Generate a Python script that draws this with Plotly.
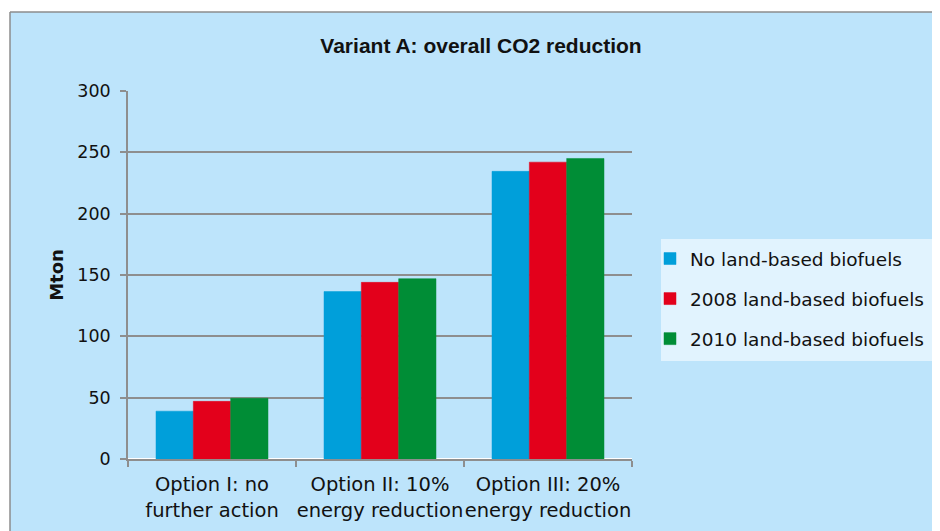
import plotly.graph_objects as go

categories = ["Option I: no<br>further action",
              "Option II: 10%<br>energy reduction",
              "Option III: 20%<br>energy reduction"]
no_land = [39, 136.5, 234.5]
land_2008 = [47, 144, 242]
land_2010 = [49.5, 147, 245]

series = [("No land-based biofuels", no_land, "#009FDA"),
          ("2008 land-based biofuels", land_2008, "#E3001B"),
          ("2010 land-based biofuels", land_2010, "#008D36")]

FW, FH = 940, 531
# plot area in figure pixels (page adds an 8px body margin)
L, R, T, B = 120, 624, 83, 451
W, H = R - L, B - T

def px(x):
    return (x - L) / W

def py(y):
    return (B - y) / H

fig = go.Figure()
for i, (name, vals, col) in enumerate(series):
    fig.add_trace(go.Bar(x=categories, y=vals, name=name, legendgroup=str(i),
                         marker=dict(color=col, line=dict(color=col, width=0.5))))

# outer chart box (light blue panel, grey border on top and left)
fig.add_shape(type="rect", xref="paper", yref="paper",
              x0=px(2), x1=px(960), y0=py(560), y1=py(4),
              fillcolor="#BDE4FB", line=dict(width=0), layer="below")
fig.add_shape(type="line", xref="paper", yref="paper",
              x0=px(2), x1=px(960), y0=py(4), y1=py(4),
              line=dict(color="#8C8C8C", width=1.5), layer="below")
fig.add_shape(type="line", xref="paper", yref="paper",
              x0=px(2), x1=px(2), y0=py(4), y1=py(560),
              line=dict(color="#8C8C8C", width=1.5), layer="below")
# legend panel
fig.add_shape(type="rect", xref="paper", yref="paper",
              x0=px(653), x1=px(929), y0=py(353), y1=py(231),
              fillcolor="#E1F3FE", line=dict(width=0), layer="below")

fig.update_layout(
    width=FW, height=FH,
    margin=dict(l=L, r=FW - R, t=T, b=FH - B, autoexpand=False),
    paper_bgcolor="white",
    plot_bgcolor="#E1F3FE",
    font=dict(family="DejaVu Sans", size=16, color="#111111"),
    title=dict(text="<b>Variant A: overall CO2 reduction</b>", x=473 / FW, xanchor="center",
               y=1 - 38 / FH, yanchor="middle",
               font=dict(family="Liberation Sans", size=21, color="#111111")),
    barmode="group", bargap=1 / 3, bargroupgap=0,
    legend=dict(x=px(642), y=py(232), xanchor="left", yanchor="top",
                bgcolor="rgba(0,0,0,0)", borderwidth=0, tracegroupgap=13,
                font=dict(family="DejaVu Sans", size=18.5, color="#111111")),
    showlegend=True,
)
fig.update_yaxes(range=[0, 300], dtick=50, showgrid=True, gridcolor="#8E8E8E", gridwidth=1.5,
                 showline=True, linecolor="#8E8E8E", linewidth=1.5,
                 ticks="outside", ticklen=6, tickcolor="#8E8E8E", tickwidth=1.5,
                 ticklabelstandoff=6, tickfont=dict(size=17.5), automargin=False,
                 title=dict(text="<b>Mton</b>", font=dict(size=18), standoff=9))
fig.update_xaxes(showline=True, linecolor="#8E8E8E", linewidth=1.5,
                 ticks="outside", tickson="boundaries", ticklen=6, tickcolor="#8E8E8E", tickwidth=1.5,
                 ticklabelstandoff=7, tickfont=dict(size=19.5), tickangle=0, automargin=False)

fig.write_html("out.html")
